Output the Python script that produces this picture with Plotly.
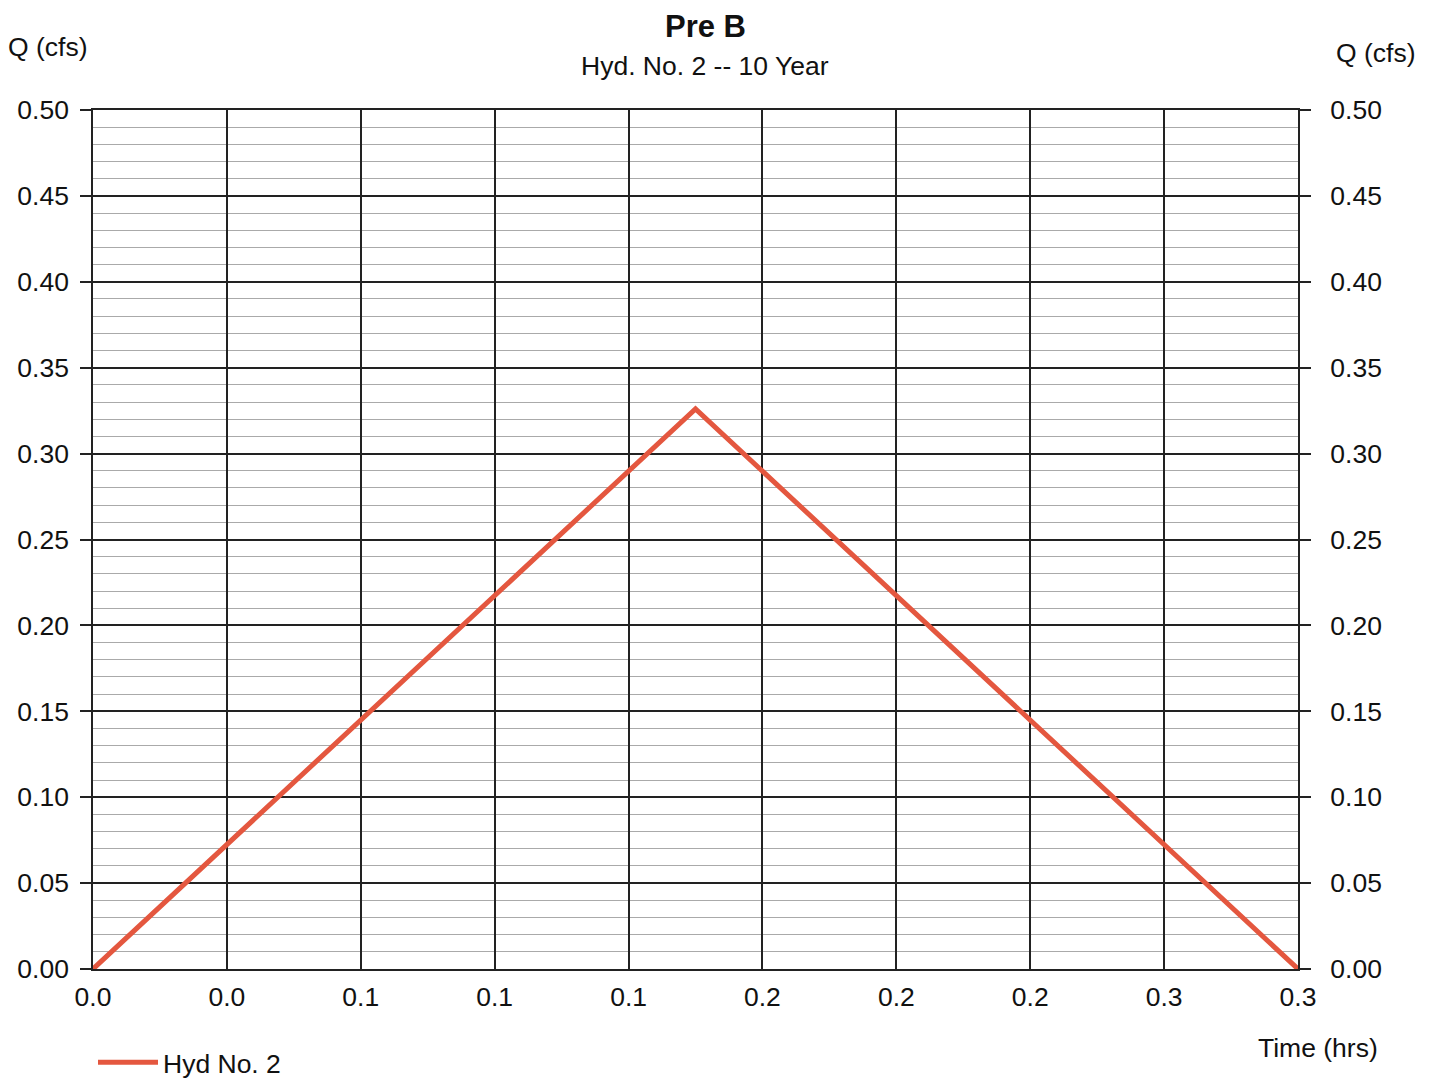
import plotly.graph_objects as go

# Data
time_hrs = [0.0, 0.15, 0.30]
flow_cfs = [0.0, 0.326, 0.0]
x_tick_vals = [0.0, 1/30, 2/30, 3/30, 4/30, 5/30, 6/30, 7/30, 8/30, 9/30]
x_tick_text = ["0.0", "0.0", "0.1", "0.1", "0.1", "0.2", "0.2", "0.2", "0.3", "0.3"]
y_tick_vals = [0.0, 0.05, 0.10, 0.15, 0.20, 0.25, 0.30, 0.35, 0.40, 0.45, 0.50]
y_tick_text = ["0.00", "0.05", "0.10", "0.15", "0.20", "0.25", "0.30", "0.35", "0.40", "0.45", "0.50"]

FONT = "Arial, Liberation Sans, sans-serif"
RED = "#E4573F"
FS = 26.5

fig = go.Figure()
fig.add_trace(go.Scatter(x=time_hrs, y=flow_cfs, mode="lines", name="Hyd No. 2",
                         line=dict(color=RED, width=5)))
# invisible trace to activate right axis
fig.add_trace(go.Scatter(x=time_hrs, y=flow_cfs, mode="lines", yaxis="y2",
                         line=dict(color="rgba(0,0,0,0)"), showlegend=False, hoverinfo="skip"))

axis_font = dict(family=FONT, size=FS, color="#111")

def note(text, x, y, size=FS):
    return dict(text=text, x=x, y=y, xref="paper", yref="paper", showarrow=False,
                xanchor="center", yanchor="middle", borderpad=0,
                font=dict(family=FONT, size=size, color="#111"))

fig.update_layout(
    width=1426, height=1070,
    margin=dict(l=85, r=136, t=102, b=109, autoexpand=False),
    paper_bgcolor="white", plot_bgcolor="white",
    font=dict(family=FONT, color="#111"),
    xaxis=dict(range=[0, 0.3], tickvals=x_tick_vals, ticktext=x_tick_text,
               showgrid=True, gridcolor="#222", gridwidth=1.5,
               ticks="outside", ticklen=3, tickcolor="rgba(0,0,0,0)",
               tickfont=axis_font, showline=True, linecolor="#222", linewidth=1.5,
               mirror=True, zeroline=False),
    yaxis=dict(range=[0, 0.5], tickvals=y_tick_vals, ticktext=y_tick_text,
               showgrid=True, gridcolor="#222", gridwidth=1.5,
               ticks="outside", ticklen=11, tickcolor="#222", tickwidth=1.5,
               ticklabelstandoff=6,
               tickfont=axis_font, showline=True, linecolor="#222", linewidth=1.5,
               mirror=True, zeroline=False,
               minor=dict(dtick=0.01, tick0=0, showgrid=True, gridcolor="#aaa", gridwidth=1.2)),
    yaxis2=dict(range=[0, 0.5], tickvals=y_tick_vals, ticktext=y_tick_text,
                overlaying="y", side="right", showgrid=False,
                ticks="outside", ticklen=12, tickcolor="#222", tickwidth=1.5,
                ticklabelstandoff=14,
                tickfont=axis_font, zeroline=False),
    showlegend=True,
    legend=dict(orientation="h", x=0.0, xanchor="left", y=-0.109, yanchor="middle",
                itemwidth=60,
                font=dict(family=FONT, size=FS, color="#111"), bgcolor="rgba(0,0,0,0)"),
    annotations=[
        note("<b>Pre B</b>", 0.508, 1.097, 31),
        note("Hyd. No. 2 -- 10 Year", 0.508, 1.051),
        note("Q (cfs)", -0.0373, 1.0733),
        note("Q (cfs)", 1.0647, 1.066),
        note("Time (hrs)", 1.0166, -0.092),
    ],
)

fig.write_html("out.html")
